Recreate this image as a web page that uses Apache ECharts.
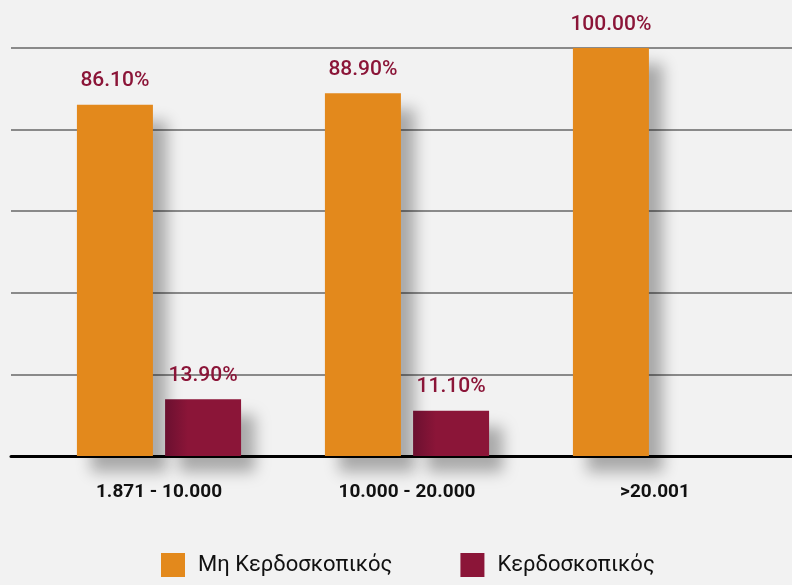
<!DOCTYPE html>
<html><head><meta charset="utf-8">
<script src="https://cdn.jsdelivr.net/npm/echarts@6/dist/echarts.min.js"></script>
<style>html,body{margin:0;padding:0;background:#f2f2f2;}#c{width:792px;height:585px;}</style>
</head><body><div id="c"></div>
<script>
const categories = ['1.871 - 10.000', '10.000 - 20.000', '>20.001'];
const seriesNames = ['Μη Κερδοσκοπικός', 'Κερδοσκοπικός'];
const nonProfit = [86.10, 88.90, 100.00];
const profit = [13.90, 11.10, null];
const yTicks = { min: 0, max: 100, interval: 20 };

const chart = echarts.init(document.getElementById('c'), null, { renderer: 'canvas' });
const font = 'Roboto, "Noto Sans", sans-serif';
const shadow = { shadowColor: 'rgba(0,0,0,0.3)', shadowBlur: 14, shadowOffsetX: 14, shadowOffsetY: 16 };
const labelStyle = {
  show: true, position: 'top', distance: 13,
  formatter: p => p.value == null ? '' : p.value.toFixed(2) + '%',
  color: '#8b1538', fontSize: 21, fontWeight: 500, fontFamily: font
};
chart.setOption({
  backgroundColor: '#f2f2f2',
  animation: false,
  grid: [
    { left: 11, right: 0, top: 48, bottom: 129 },
    { left: 35, right: 13, top: 48, bottom: 129 }
  ],
  legend: {
    bottom: 3, left: 156, itemWidth: 24, itemHeight: 24, itemGap: 68,
    icon: 'rect',
    textStyle: { fontSize: 22, color: '#111', fontFamily: font, padding: [0, 0, 0, 8] },
    data: [
      { name: seriesNames[0], itemStyle: { color: '#e3891c' } },
      { name: seriesNames[1], itemStyle: { color: '#8b1538' } }
    ]
  },
  xAxis: [
    { type: 'category', gridIndex: 0, data: categories,
      axisLine: { show: true, lineStyle: { color: '#000', width: 3 } },
      axisTick: { show: false }, axisLabel: { show: false }, splitLine: { show: false } },
    { type: 'category', gridIndex: 1, data: categories,
      axisLine: { show: false }, axisTick: { show: false },
      axisLabel: { margin: 27, fontSize: 19, fontWeight: 'bold', color: '#111', fontFamily: font } }
  ],
  yAxis: [
    { type: 'value', gridIndex: 0, min: yTicks.min, max: yTicks.max, interval: yTicks.interval,
      axisLabel: { show: false }, axisLine: { show: false }, axisTick: { show: false },
      splitLine: { lineStyle: { color: '#8a8a8a', width: 2 } } },
    { type: 'value', gridIndex: 1, min: yTicks.min, max: yTicks.max, interval: yTicks.interval,
      show: false, splitLine: { show: false } }
  ],
  series: [
    { name: seriesNames[0], type: 'bar', xAxisIndex: 1, yAxisIndex: 1, data: nonProfit,
      barWidth: 76, barGap: '16%', z: 3,
      itemStyle: Object.assign({ color: '#e3891c' }, shadow),
      label: labelStyle },
    { name: seriesNames[1], type: 'bar', xAxisIndex: 1, yAxisIndex: 1, data: profit,
      barWidth: 76, z: 3,
      itemStyle: Object.assign({
        color: new echarts.graphic.LinearGradient(0, 0, 1, 0, [
          { offset: 0, color: '#6b1030' }, { offset: 0.3, color: '#8b1538' }, { offset: 1, color: '#8b1538' }
        ])
      }, shadow),
      label: labelStyle }
  ]
});
</script></body></html>
